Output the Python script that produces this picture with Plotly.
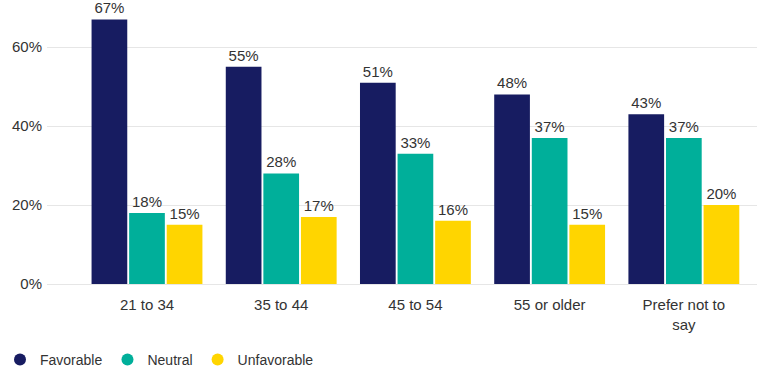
import plotly.graph_objects as go

categories = ["21 to 34", "35 to 44", "45 to 54", "55 or older", "Prefer not to<br>say"]
favorable = [67, 55, 51, 48, 43]
neutral = [18, 28, 33, 37, 37]
unfavorable = [15, 17, 16, 15, 20]
series_names = ["Favorable", "Neutral", "Unfavorable"]
colors = ["#171C61", "#00AF9A", "#FFD500"]
y_ticks = [0, 20, 40, 60]
y_tick_labels = ["0%", "20%", "40%", "60%"]

fig = go.Figure()
for name, vals, col in zip(series_names, [favorable, neutral, unfavorable], colors):
    fig.add_trace(go.Bar(
        x=categories, y=vals, name=name, marker_color=col,
        marker_line_width=0,
        text=[f"{v}%" for v in vals], textposition="outside",
        textfont=dict(size=15, color="#333333"), cliponaxis=False,
        showlegend=False,
    ))
for name, col in zip(series_names, colors):
    fig.add_trace(go.Scatter(
        x=[None], y=[None], mode="markers", name=name,
        marker=dict(symbol="circle", size=11, color=col),
    ))

fig.update_layout(
    width=772, height=370,
    margin=dict(l=47, r=15, t=10, b=86),
    paper_bgcolor="white", plot_bgcolor="white",
    font=dict(family="Liberation Sans, Arial, sans-serif", size=15, color="#333333"),
    barmode="group", bargap=0.16, bargroupgap=0.05,
    showlegend=True,
    legend=dict(orientation="h", xref="container", yref="container",
                x=0.0, y=0.027, xanchor="left", yanchor="middle",
                font=dict(size=14, color="#333333"), itemsizing="constant",
                tracegroupgap=0, itemwidth=30),
    uniformtext=dict(mode=False),
)
fig.update_xaxes(range=[-0.745, 4.545], showgrid=False, showline=False,
                 ticks="", tickfont=dict(size=15, color="#333333"),
                 ticklabelstandoff=10)
fig.update_yaxes(range=[0, 69.4], tickvals=y_ticks, ticktext=y_tick_labels,
                 showgrid=True, gridcolor="#e6e6e6", gridwidth=1,
                 zeroline=True, zerolinecolor="#e6e6e6", zerolinewidth=1,
                 showline=False, ticks="", tickfont=dict(size=15, color="#333333"),
                 ticklabelstandoff=4)

fig.write_html("out.html")
